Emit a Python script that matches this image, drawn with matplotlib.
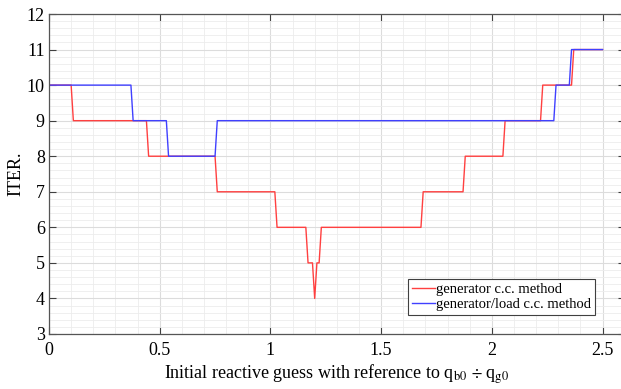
import matplotlib
matplotlib.use("Agg")
import matplotlib.pyplot as plt
from matplotlib.ticker import MultipleLocator

plt.rcParams['font.family'] = ['Liberation Serif', 'DejaVu Serif']
plt.rcParams['mathtext.fontset'] = 'stix'

# corner points of the two step curves
gen_x = [0, 0.10, 0.11, 0.44, 0.45, 0.75, 0.76, 1.02, 1.03, 1.16, 1.17, 1.19, 1.20,
         1.21, 1.22, 1.23, 1.68, 1.69, 1.87, 1.88, 2.05, 2.06, 2.22, 2.23, 2.36, 2.37, 2.50]
gen_y = [10, 10, 9, 9, 8, 8, 7, 7, 6, 6, 5, 5, 4,
         5, 5, 6, 6, 7, 7, 8, 8, 9, 9, 10, 10, 11, 11]

load_x = [0, 0.37, 0.38, 0.53, 0.54, 0.75, 0.76, 2.28, 2.29, 2.35, 2.36, 2.50]
load_y = [10, 10, 9, 9, 8, 8, 9, 9, 10, 10, 11, 11]

xticks = [0, 0.5, 1, 1.5, 2, 2.5]
xticklabels = ['0', '0.5', '1', '1.5', '2', '2.5']
yticks = [3, 4, 5, 6, 7, 8, 9, 10, 11, 12]

fig = plt.figure(figsize=(6.21, 3.89), dpi=100)
ax = fig.add_axes([0.0789, 0.1414, 0.927, 0.8226])

ax.plot(gen_x, gen_y, color=(1, 0.25, 0.25), lw=1.0, label='generator c.c. method')
ax.plot(load_x, load_y, color=(0.25, 0.25, 1), lw=1.0, label='generator/load c.c. method')

ax.set_xlim(0, 2.6)
ax.set_ylim(3, 12)
ax.set_xticks(xticks)
ax.set_xticklabels(xticklabels)
ax.set_yticks(yticks)
ax.xaxis.set_minor_locator(MultipleLocator(0.1))
ax.yaxis.set_minor_locator(MultipleLocator(0.2))

ax.grid(which='major', color='#dcdcdc', lw=0.8)
ax.grid(which='minor', color='#ececec', lw=0.6)
ax.set_axisbelow(True)

ax.tick_params(which='major', direction='in', top=True, right=True, length=5,
               labelsize=13, color='#404040', pad=3)
ax.tick_params(axis='x', which='major', pad=6)
ax.tick_params(which='minor', length=0)
for s in ax.spines.values():
    s.set_color('#555555')
    s.set_linewidth(0.9)

ax.set_ylabel('ITER.', fontsize=13)
ax.yaxis.set_label_coords(-0.042, 0.5)
ax.set_xlabel(r'Initial reactive guess with reference to q$_{\mathrm{b0}}$ $\div$ q$_{\mathrm{g0}}$',
              fontsize=13)
ax.xaxis.set_label_coords(0.5, -0.088)

leg = ax.legend(loc='lower right', bbox_to_anchor=(0.9486, 0.059), fontsize=10.5,
                frameon=True, fancybox=False, edgecolor='#404040', framealpha=1,
                handlelength=1.6, handletextpad=0.1, borderpad=0.25, labelspacing=0.15,
                borderaxespad=0)
leg.get_frame().set_linewidth(0.8)

fig.savefig('out.png', dpi=100)
